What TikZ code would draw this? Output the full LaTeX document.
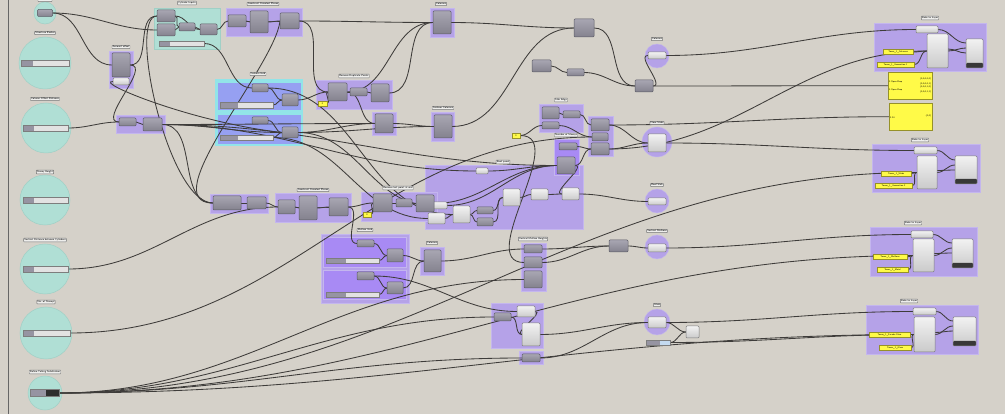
\documentclass[tikz,border=0pt]{standalone}
\usepackage{tikz}
\definecolor{canvas}{RGB}{213,209,201}
\definecolor{grpfill}{RGB}{181,162,232}
\definecolor{grpline}{RGB}{196,182,238}
\definecolor{vioc}{RGB}{168,138,244}
\definecolor{tealc}{RGB}{176,223,213}
\definecolor{tealline}{RGB}{160,208,198}
\definecolor{bluec}{RGB}{150,160,242}
\definecolor{cyanc}{RGB}{146,228,232}
\definecolor{comptop}{RGB}{168,166,178}
\definecolor{compbot}{RGB}{132,130,142}
\definecolor{compline}{RGB}{92,92,102}
\definecolor{partop}{RGB}{242,242,242}
\definecolor{parbot}{RGB}{202,202,202}
\definecolor{parline}{RGB}{125,125,125}
\definecolor{yelc}{RGB}{255,250,72}
\definecolor{yelline}{RGB}{150,145,40}
\definecolor{barc}{RGB}{226,226,226}
\definecolor{knobc}{RGB}{150,148,162}
\definecolor{wirec}{RGB}{62,60,58}
\definecolor{tagc}{RGB}{238,238,236}
\definecolor{hatchc}{RGB}{196,218,240}
\pgfdeclarelayer{back}
\pgfdeclarelayer{wires}
\pgfsetlayers{back,wires,main}
\tikzset{
  sz/.style 2 args={minimum width=#1, minimum height=#2},
  grp/.style={fill=grpfill, draw=grpline, line width=0.6pt},
  vgrp/.style={fill=vioc, draw=grpline, line width=0.6pt},
  tgrp/.style={fill=tealc, draw=tealline, line width=0.6pt},
  bgrp/.style={fill=bluec, draw=cyanc, line width=0.6pt},
  hub/.style={circle, fill=tealc, draw=tealline, inner sep=0pt, line width=0.5pt},
  phub/.style={circle, fill=grpfill, draw=grpline, inner sep=0pt},
  comp/.style={draw=compline, top color=comptop, bottom color=compbot,
    rounded corners=1pt, inner sep=0pt, outer sep=0pt, line width=0.5pt},
  param/.style={comp, draw=parline, top color=partop, bottom color=parbot},
  bakeout/.style={param, path picture={\fill[black!78]
    (path picture bounding box.south west) rectangle
    ([yshift=5pt]path picture bounding box.south east);}},
  slider/.style={draw=parline, fill=barc, inner sep=0pt, line width=0.4pt,
    path picture={\fill[knobc] (path picture bounding box.south west)
    rectangle ([xshift=#1]path picture bounding box.north west);}},
  yel/.style={draw=yelline, fill=yelc, inner sep=0pt, line width=0.4pt,
    font=\sffamily\fontsize{2.3}{2.6}\selectfont},
  tag/.style={draw=black!55, fill=tagc, inner sep=0.7pt, line width=0.4pt,
    rounded corners=0.5pt, font=\sffamily\fontsize{2.6}{3}\selectfont},
  wire/.style={draw=wirec, line width=0.85pt},
}
\begin{document}
\begin{tikzpicture}[x=1pt,y=-1pt]
\useasboundingbox (0,0) rectangle (1005,414);
\begin{pgfonlayer}{back}
  \fill[canvas] (0,0) rectangle (1005,414);
  \draw[black!60, line width=0.8pt] (8,0) -- (8,414);
  % input sliders
  \node[hub, minimum size=22] (r1) at (45,13) {};
  \node[hub, minimum size=52] (r2) at (45,63) {};
  \node[hub, minimum size=50] (r3) at (46,128) {};
  \node[hub, minimum size=50] (r4) at (45,200) {};
  \node[hub, minimum size=50] (r5) at (45,269) {};
  \node[hub, minimum size=52] (r6) at (46,333) {};
  \node[hub, minimum size=34] (r7) at (45,393) {};
  % groups
  \draw[grp] (109,51) rectangle (133,88);
  \draw[tgrp] (154,8) rectangle (220,49);
  \draw[grp] (226,8) rectangle (302,36);
  \draw[grp] (116,115) rectangle (165,133);
  \fill[cyanc] (215,79) rectangle (303,146);
  \draw[bgrp] (217,82) rectangle (301,110);
  \draw[bgrp] (217,114) rectangle (301,144);
  \draw[grp] (210,194) rectangle (268,213);
  \draw[grp] (275,193) rectangle (351,222);
  \draw[grp] (430,8) rectangle (454,37);
  \draw[grp] (316,80) rectangle (392,109);
  \draw[grp] (372,112) rectangle (396,135);
  \draw[grp] (431,112) rectangle (454,141);
  \draw[grp] (539,104) rectangle (583,132);
  \draw[grp] (425,165) rectangle (583,229);
  \draw[vgrp] (554,139) rectangle (579,175);
  \draw[grp] (588,116) rectangle (613,156);
  \draw[grp] (361,192) rectangle (437,221);
  \draw[grp] (321,234) rectangle (409,303);
  \draw[vgrp] (323,237) rectangle (406,267);
  \draw[vgrp] (323,270) rectangle (406,299);
  \draw[grp] (420,247) rectangle (444,275);
  \draw[grp] (521,243) rectangle (546,291);
  \draw[grp] (491,303) rectangle (543,348);
  \draw[grp] (519,351) rectangle (543,364);
  \draw[grp] (874,23) rectangle (986,71);
  \draw[grp] (872,144) rectangle (980,192);
  \draw[grp] (870,227) rectangle (977,276);
  \draw[grp] (866,305) rectangle (978,354);
  % preview blobs
  \node[phub, minimum size=24] (pc1) at (657,56) {};
  \node[phub, minimum size=30] (pc2) at (657,142) {};
  \node[phub, minimum size=24] (pc3) at (657,201) {};
  \node[phub, minimum size=24] (pc4) at (657,247) {};
  \node[phub, minimum size=26] (pc5) at (657,322) {};
\end{pgfonlayer}

% sliders
\node[comp, sz={15}{7}] (k1) at (45,13) {};
\node[slider=12pt, sz={48}{6}] (sl2) at (45,63) {};
\node[slider=11pt, sz={45}{6}] (sl3) at (45.5,128) {};
\node[slider=11pt, sz={45}{6}] (sl4) at (45.5,200) {};
\node[slider=11pt, sz={45}{6}] (sl5) at (45.5,269) {};
\node[slider=11pt, sz={47}{6}] (sl6) at (46.5,333) {};
\node[slider=16pt, fill=black!82, sz={29}{7}] (sl7) at (44.5,393) {};
\node[slider=11pt, sz={45}{5}] (sl8) at (181.5,43.5) {};
\node[tag] (lab1) at (45,0) {Base Point};
\node[tag] (lab2) at (45,33) {Structure Radius};
\node[tag] (lab3) at (45,99) {Column Offset Distance};
\node[tag] (lab4) at (45,172) {Storey Height};
\node[tag] (lab5) at (45,240) {Vertical Distance between Cylinders};
\node[tag] (lab6) at (46,302) {No. of Storeys};
\node[tag] (lab7) at (45,372) {Define Tubing Subdivision};

% account offset + cylinder inputs
\node[comp, sz={18}{24}] (acc) at (121,65) {};
\node[param, sz={16}{7}] (accp) at (121,81.5) {};
\node[tag] (lacc) at (121,47) {Account offset};
\node[comp, sz={18}{12}] (tb1) at (166,16) {};
\node[comp, sz={18}{12}] (tb2) at (166,30) {};
\node[comp, sz={16}{8}] (tsm) at (187,27) {};
\node[comp, sz={17}{11}] (tb3) at (208.5,29.5) {};
\node[tag] (lteal) at (187,3) {Cylinder Inputs};
\node[comp, sz={18}{12}] (ca) at (237,21) {};
\node[comp, sz={18}{22}] (cb) at (259,22) {};
\node[comp, sz={19}{16}] (cc) at (289.5,21) {};
\node[tag] (lcop) at (263,4) {Construct Oriented Planes};
\node[comp, sz={17}{8}] (m1) at (127.5,122) {};
\node[comp, sz={19}{13}] (m2) at (152.5,124.5) {};

% column grid
\node[tag] (lcg) at (258,74) {Column Grid};
\node[comp, sz={16}{8}] (gs1) at (260,88) {};
\node[slider=18pt, sz={53}{6}] (gsl1) at (246.5,105) {};
\node[comp, sz={16}{12}] (gc1) at (290,100) {};
\node[comp, sz={16}{7}] (gs2) at (260,120.5) {};
\node[slider=18pt, sz={53}{5}] (gsl2) at (246.5,137.5) {};
\node[comp, sz={16}{11}] (gc2) at (290,132.5) {};

% planes and columns
\node[comp, sz={28}{14}] (bl1) at (227,203) {};
\node[comp, sz={19}{12}] (bl2) at (256.5,203) {};
\node[comp, sz={17}{14}] (ea) at (286.5,207) {};
\node[comp, sz={18}{24}] (eb) at (308,208) {};
\node[comp, sz={19}{18}] (ec) at (338.5,207) {};
\node[tag] (lcop2) at (313,190) {Construct Oriented Planes};
\node[comp, sz={18}{23}] (ct) at (442,22.5) {};
\node[tag] (lct) at (441,4) {Columns};
\node[comp, sz={19}{18}] (rd1) at (337.5,92) {};
\node[comp, sz={17}{8}] (rdsm) at (358.5,92) {};
\node[comp, sz={18}{18}] (rd3) at (380,93) {};
\node[yel, sz={9}{5}] (rdy) at (322.5,103.5) {0};
\node[tag] (lrd) at (354,76) {Remove Duplicate Points};
\node[comp, sz={18}{19}] (rd2) at (384,123.5) {};
\node[comp, sz={18}{23}] (cc2) at (443,126.5) {};
\node[tag] (lctc) at (443,108) {Contour Columns};
\node[comp, sz={20}{18}] (top1) at (584,28) {};
\node[comp, sz={19}{12}] (cm60) at (541.5,66) {};
\node[comp, sz={17}{7}] (cm69) at (575.5,72.5) {};
\node[comp, sz={18}{12}] (g86) at (644,86) {};

% slabs
\node[comp, sz={17}{12}] (fs1) at (550.5,113) {};
\node[comp, sz={17}{7}] (fs2) at (571.5,114.5) {};
\node[comp, sz={17}{7}] (fs3) at (550.5,125.5) {};
\node[tag] (lfs) at (561,100) {Slab Edge};
\node[yel, sz={8}{5}] (yel3) at (516,135.5) {0};
\node[comp, sz={18}{7}] (ns1) at (568,146.5) {};
\node[comp, sz={18}{17}] (ns2) at (566,165.5) {};
\node[tag] (lns) at (566,135) {Number of Storeys};
\node[comp, sz={18}{12}] (rg1) at (600,125) {};
\node[comp, sz={16}{8}] (rg2) at (600,137) {};
\node[comp, sz={18}{12}] (rg3) at (600,149) {};

% roof panel
\node[tag] (lbg) at (503,162) {Roof panel};
\node[param, sz={12}{6}] (bsw) at (482,171) {};
\node[param, sz={17}{17}] (bw1) at (511.5,197.5) {};
\node[param, sz={17}{11}] (bw2) at (539.5,194.5) {};
\node[param, sz={17}{12}] (bw3) at (570.5,194) {};
\node[param, sz={17}{17}] (bw4) at (461.5,214.5) {};
\node[comp, sz={16}{7}] (bs1) at (485,210.5) {};
\node[comp, sz={16}{8}] (bs2) at (485,222) {};
\node[param, sz={16}{7}] (bw5) at (439,205.5) {};
\node[param, sz={17}{11}] (bw6) at (436.5,218.5) {};
\node[tag] (lrem) at (398,188) {Remove last point at end};
\node[comp, sz={19}{18}] (re1) at (382.5,203) {};
\node[comp, sz={16}{8}] (re2) at (404,203) {};
\node[comp, sz={18}{17}] (re3) at (425,203.5) {};
\node[yel, sz={8}{5}] (rey) at (367,214.5) {0};

% mullion grid
\node[tag] (lcgb) at (365,230) {Mullion Grid};
\node[comp, sz={17}{7}] (hs1) at (365.5,243.5) {};
\node[slider=20pt, sz={53}{5}] (hsl1) at (352.5,260.5) {};
\node[comp, sz={16}{13}] (hc1) at (395,255.5) {};
\node[comp, sz={17}{8}] (hs2) at (365.5,276) {};
\node[slider=20pt, sz={53}{5}] (hsl2) at (352.5,294.5) {};
\node[comp, sz={16}{12}] (hc2) at (395,288) {};
\node[comp, sz={17}{22}] (cb1) at (432.5,261) {};
\node[tag] (lcolb) at (432,243) {Columns};
\node[comp, sz={18}{8}] (v1) at (533,249) {};
\node[comp, sz={18}{11}] (v2) at (533,262.5) {};
\node[comp, sz={18}{17}] (v3) at (533,279.5) {};
\node[tag] (lvm) at (533,239) {Vertical Mullion Heights};
\node[comp, sz={19}{12}] (g609) at (618.5,246) {};
\node[param, sz={18}{11}] (l1) at (526,311.5) {};
\node[comp, sz={17}{8}] (ls) at (502.5,317) {};
\node[param, sz={18}{23}] (l3) at (531,334.5) {};
\node[comp, sz={18}{8}] (bt) at (531,358) {};

% previews
\node[param, sz={18}{7}] (pw1) at (657,55.5) {};
\node[param, sz={18}{18}] (pw2) at (657,143) {};
\node[param, sz={18}{7}] (pw3) at (657,201.5) {};
\node[param, sz={18}{8}] (pw4) at (657,248) {};
\node[param, sz={18}{11}] (pw5) at (657,322.5) {};
\node[tag] (lpc1) at (657,39) {Columns};
\node[tag] (lpc2) at (657,123) {Floor Slabs};
\node[tag] (lpc3) at (657,185) {Roof Slab};
\node[tag] (lpc4) at (657,231) {Vertical Mullions};
\node[tag] (lpc5) at (657,305) {Glass};
\node[param, sz={13}{12}] (gw) at (692.5,332) {};
\node[slider=14pt, fill=hatchc, sz={24}{5}] (gsl) at (658,342.5) {};

% panels
\node[yel, sz={44}{27}, text width=42pt, align=left, anchor=north west, inner sep=1pt]
  (pn1) at (888,72) {\hfill\{0;0;0;0;0\}\\0 Open Brep\\\hfill\{0;0;0;0;1\}\\\hfill\{0;0;0;1;0\}\\0 Open Brep\\\hfill\{0;0;0;1;1\}};
\node[yel, sz={43}{27}, text width=41pt, align=left, anchor=north west, inner sep=1pt]
  (pn2) at (889,103) {\hfill\{0;0\}\\0 24};

% bake
\node[tag] (lb1) at (930,18) {Bake to Layer};
\node[param, sz={22}{7}] (b1w) at (927,29.5) {};
\node[param, sz={21}{34}] (b1t) at (937.5,51) {};
\node[yel, sz={30}{5}] (b1y1) at (898,52) {Tower\_1\_Columns};
\node[yel, sz={37}{5}] (b1y2) at (895.5,64.5) {Tower\_1\_Generation 1};
\node[bakeout, sz={17}{29}] (b1r) at (974.5,53.5) {};
\node[tag] (lb2) at (920,140) {Bake to Layer};
\node[param, sz={23}{7}] (b2w) at (925.5,150.5) {};
\node[param, sz={20}{33}] (b2t) at (927,172.5) {};
\node[yel, sz={30}{5}] (b2y1) at (896,173.5) {Tower\_1\_Slabs};
\node[yel, sz={37}{5}] (b2y2) at (893.5,185.5) {Tower\_1\_Generation 2};
\node[bakeout, sz={22}{28}] (b2r) at (966,170) {};
\node[tag] (lb3) at (913,223) {Bake to Layer};
\node[param, sz={22}{7}] (b3w) at (922,234.5) {};
\node[param, sz={21}{33}] (b3t) at (923.5,255.5) {};
\node[yel, sz={34}{5}] (b3y1) at (890,257) {Tower\_1\_Mullions};
\node[yel, sz={31}{5}] (b3y2) at (892.5,269.5) {Tower\_1\_Metal};
\node[bakeout, sz={21}{29}] (b3r) at (962.5,253.5) {};
\node[tag] (lb4) at (909,301) {Bake to Layer};
\node[param, sz={23}{7}] (b4w) at (924.5,311.5) {};
\node[param, sz={21}{35}] (b4t) at (924.5,334.5) {};
\node[yel, sz={41}{5}] (b4y1) at (889.5,334.5) {Tower\_1\_Facade Glass};
\node[yel, sz={32}{5}] (b4y2) at (895,347.5) {Tower\_1\_Glass};
\node[bakeout, sz={23}{29}] (b4r) at (964.5,331.5) {};

\begin{pgfonlayer}{wires}
  % left inputs
  \draw[wire] (k1.east) to[out=0,in=180] (tb2.west);
  \draw[wire] (k1.east) to[out=0,in=180] (acc.west);
  \draw[wire] (acc.east) to[out=0,in=180] (tb1.west);
  \draw[wire] (acc.east) to[out=0,in=180] (m1.west);
  \draw[wire] (gc2.west) .. controls +(-90,-10) and +(-20,0) .. (accp.west);
  \draw[wire] (tb1.west) .. controls +(-30,0) and +(-45,0) .. (bl1.west);
  \draw[wire] (cc.west) .. controls +(-5,45) and +(-60,0) .. (bl1.west);
  \draw[wire] (sl3.east) to[out=0,in=180] (m1.west);
  \draw[wire] (sl5.east) to[out=0,in=180] (ea.west);
  \draw[wire] (sl6.east) to[out=0,in=180] (rg2.west);
  % cylinder inputs
  \draw[wire] (tb1.east) to[out=0,in=180] (tsm.west);
  \draw[wire] (tb2.east) to[out=0,in=180] (tsm.west);
  \draw[wire] (tb1.east) to[out=0,in=180] (tb3.west);
  \draw[wire] (tsm.east) to[out=0,in=180] (tb3.west);
  \draw[wire] (tb3.east) to[out=0,in=180] (ca.west);
  \draw[wire] (sl8.east) to[out=0,in=180] (gs1.west);
  \draw[wire] (ca.east) to[out=0,in=180] (cb.west);
  \draw[wire] (ca.east) to[out=0,in=180] (cc.west);
  \draw[wire] (cb.east) to[out=0,in=180] (cc.west);
  \draw[wire] (cc.east) to[out=0,in=180] (rd1.west);
  \draw[wire] (cc.east) to[out=0,in=180] (ct.west);
  % mid
  \draw[wire] (m1.east) to[out=0,in=180] (m2.west);
  \draw[wire] (m2.east) to[out=0,in=180] (gc2.west);
  \draw[wire] (m2.east) to[out=0,in=180] (rd2.west);
  \draw[wire] (m2.east) to[out=0,in=180] (bl1.west);
  \draw[wire] (m2.east) to[out=0,in=180] (ns2.west);
  \draw[wire] (m2.east) to[out=0,in=180] (bsw.west);
  \draw[wire] (gs1.east) to[out=0,in=180] (gc1.west);
  \draw[wire] (gsl1.east) to[out=0,in=180] (gc1.west);
  \draw[wire] (gs2.east) to[out=0,in=180] (gc2.west);
  \draw[wire] (gsl2.east) to[out=0,in=180] (gc2.west);
  \draw[wire] (gs1.east) to[out=0,in=180] (bw4.west);
  \draw[wire] (gc1.east) to[out=0,in=180] (rd1.west);
  \draw[wire] (gc2.east) to[out=0,in=180] (rd2.west);
  \draw[wire] (gc2.east) to[out=0,in=180] (cc2.west);
  \draw[wire] (gc2.east) to[out=0,in=180] (bw5.west);
  \draw[wire] (gsl2.east) to[out=0,in=180] (bw6.west);
  % top middle
  \draw[wire] (rdy.east) to[out=0,in=180] (rd1.west);
  \draw[wire] (rd1.east) to[out=0,in=180] (rdsm.west);
  \draw[wire] (rdsm.east) to[out=0,in=180] (rd3.west);
  \draw[wire] (rd1.east) to[out=0,in=180] (rd2.west);
  \draw[wire] (rd1.east) to[out=0,in=180] (ct.west);
  \draw[wire] (rd3.east) to[out=0,in=180] (ct.west);
  \draw[wire] (rd2.east) to[out=0,in=180] (cc2.west);
  \draw[wire] (ct.east) to[out=0,in=180] (top1.west);
  \draw[wire] (cc2.east) to[out=0,in=180] (top1.west);
  \draw[wire] (top1.east) to[out=0,in=180] (g86.west);
  \draw[wire] (cm60.east) to[out=0,in=180] (cm69.west);
  \draw[wire] (cm69.east) to[out=0,in=180] (g86.west);
  \draw[wire] (g86.east) to[out=0,in=180] (pw1.west);
  \draw[wire] (g86.east) to[out=0,in=180] (pn1.west);
  \draw[wire] (pw1.east) to[out=0,in=180] (b1w.west);
  % slabs
  \draw[wire] (yel3.east) to[out=0,in=180] (fs3.west);
  \draw[wire] (yel3.east) to[out=0,in=180] (v2.west);
  \draw[wire] (fs1.east) to[out=0,in=180] (fs2.west);
  \draw[wire] (fs2.east) to[out=0,in=180] (rg1.west);
  \draw[wire] (fs3.east) to[out=0,in=180] (rg2.west);
  \draw[wire] (ns1.east) to[out=0,in=180] (rg3.west);
  \draw[wire] (ns2.east) to[out=0,in=180] (rg3.west);
  \draw[wire] (ns2.east) to[out=0,in=180] (bw3.west);
  \draw[wire] (rg1.east) to[out=0,in=180] (pn2.west);
  \draw[wire] (rg1.east) to[out=0,in=180] (pw2.west);
  \draw[wire] (rg3.east) to[out=0,in=180] (pw2.west);
  \draw[wire] (rg3.east) to[out=0,in=180] (b1t.west);
  \draw[wire] (pw2.east) to[out=0,in=180] (b2w.west);
  % roof panel
  \draw[wire] (bsw.east) to[out=0,in=180] (ns2.west);
  \draw[wire] (bw5.east) to[out=0,in=180] (ns2.west);
  \draw[wire] (re3.east) to[out=0,in=180] (ns2.west);
  \draw[wire] (bw6.east) to[out=0,in=180] (bw4.west);
  \draw[wire] (bw4.east) to[out=0,in=180] (bs1.west);
  \draw[wire] (bw4.east) to[out=0,in=180] (bs2.west);
  \draw[wire] (bs1.east) to[out=0,in=180] (bw1.west);
  \draw[wire] (bs2.east) to[out=0,in=180] (bw1.west);
  \draw[wire] (bw1.east) to[out=0,in=180] (bw2.west);
  \draw[wire] (bw2.east) to[out=0,in=180] (bw3.west);
  \draw[wire] (bw3.east) to[out=0,in=180] (pw3.west);
  \draw[wire] (rey.east) to[out=0,in=180] (re1.west);
  \draw[wire] (re1.east) to[out=0,in=180] (re2.west);
  \draw[wire] (re2.east) to[out=0,in=180] (re3.west);
  \draw[wire] (re3.east) to[out=0,in=180] (bw5.west);
  % planes
  \draw[wire] (bl1.east) to[out=0,in=180] (bl2.west);
  \draw[wire] (bl2.east) to[out=0,in=180] (ea.west);
  \draw[wire] (ea.east) to[out=0,in=180] (eb.west);
  \draw[wire] (ea.east) to[out=0,in=180] (ec.west);
  \draw[wire] (eb.east) to[out=0,in=180] (ec.west);
  \draw[wire] (ec.east) to[out=0,in=180] (re1.west);
  \draw[wire] (ec.east) to[out=0,in=180] (hs1.west);
  % mullion grid
  \draw[wire] (hs1.east) to[out=0,in=180] (hc1.west);
  \draw[wire] (hsl1.east) to[out=0,in=180] (hc1.west);
  \draw[wire] (hs2.east) to[out=0,in=180] (hc2.west);
  \draw[wire] (hsl2.east) to[out=0,in=180] (hc2.west);
  \draw[wire] (hs2.east) to[out=0,in=180] (l1.west);
  \draw[wire] (hc1.east) to[out=0,in=180] (cb1.west);
  \draw[wire] (hc2.east) to[out=0,in=180] (cb1.west);
  \draw[wire] (cb1.east) to[out=0,in=180] (v1.west);
  \draw[wire] (v1.east) to[out=0,in=180] (g609.west);
  \draw[wire] (v2.east) to[out=0,in=180] (g609.west);
  \draw[wire] (g609.east) to[out=0,in=180] (pw4.west);
  \draw[wire] (pw4.east) to[out=0,in=180] (b3w.west);
  % glass
  \draw[wire] (ls.east) to[out=0,in=180] (l3.west);
  \draw[wire] (l1.east) to[out=0,in=180] (l3.west);
  \draw[wire] (l3.east) to[out=0,in=180] (pw5.west);
  \draw[wire] (bt.east) to[out=0,in=180] (pw5.west);
  \draw[wire] (pw5.east) to[out=0,in=180] (gw.west);
  \draw[wire] (gsl.east) to[out=0,in=180] (gw.west);
  \draw[wire] (pw5.east) to[out=0,in=180] (b4w.west);
  \draw[wire] (gsl.east) to[out=0,in=180] (b4t.west);
  % subdivision fan
  \draw[wire] (sl7.east) to[out=0,in=180] (v3.west);
  \draw[wire] (sl7.east) to[out=0,in=180] (ls.west);
  \draw[wire] (sl7.east) to[out=0,in=180] (bt.west);
  \draw[wire] (sl7.east) to[out=0,in=180] (b2t.west);
  \draw[wire] (sl7.east) to[out=0,in=180] (b3t.west);
  \draw[wire] (sl7.east) to[out=0,in=180] (b4t.west);
  % bake internals
  \foreach \b in {b1,b2,b3,b4}{
    \draw[wire] (\b y1.east) to[out=0,in=180] (\b t.west);
    \draw[wire] (\b y2.east) to[out=0,in=180] (\b t.west);
    \draw[wire] (\b w.east) to[out=0,in=180] ([yshift=-4pt]\b r.north west);
    \draw[wire] (\b t.east) to[out=0,in=180] ([yshift=-9pt]\b r.north west);
    \draw[wire] ([yshift=2pt]\b t.east) to[out=0,in=180] ([yshift=-14pt]\b r.north west);
  }
\end{pgfonlayer}
\end{tikzpicture}
\end{document}
